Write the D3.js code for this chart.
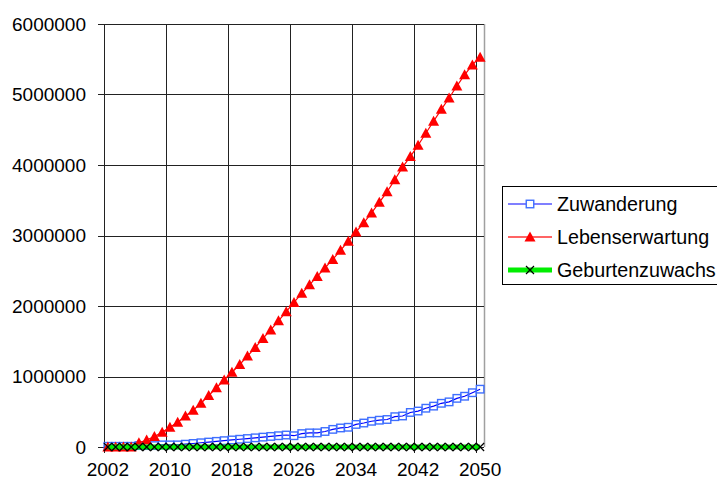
<!DOCTYPE html>
<html><head><meta charset="utf-8">
<script src="https://cdn.jsdelivr.net/npm/d3@7"></script>
<style>body{margin:0;background:#fff;} text{font-family:"Liberation Sans",Arial,sans-serif;}</style>
</head><body>
<svg id="c" width="717" height="486"></svg>
<script>
const years = d3.range(2002, 2051);
const tickYears = [2002, 2010, 2018, 2026, 2034, 2042, 2050];
const yTicks = [0, 1000000, 2000000, 3000000, 4000000, 5000000, 6000000];
const seriesNames = ["Zuwanderung", "Lebenserwartung", "Geburtenzuwachs"];
// values in millions
const zuwanderung = [0.01,0.01,0.01,0.01,0.02,0.02,0.02,0.03,0.03,0.03,0.04,0.05,0.06,0.07,0.08,0.09,0.10,0.11,0.12,0.13,0.14,0.15,0.16,0.17,0.16,0.19,0.20,0.20,0.22,0.25,0.27,0.28,0.32,0.34,0.365,0.38,0.39,0.43,0.44,0.49,0.51,0.55,0.58,0.62,0.64,0.69,0.72,0.77,0.82];
const lebenserwartung = [0,0,0,0,0.06,0.10,0.15,0.21,0.28,0.35,0.44,0.52,0.62,0.73,0.84,0.95,1.06,1.17,1.29,1.41,1.54,1.66,1.79,1.92,2.05,2.18,2.30,2.42,2.54,2.66,2.79,2.92,3.05,3.18,3.32,3.47,3.62,3.79,3.97,4.12,4.28,4.45,4.62,4.79,4.95,5.12,5.28,5.42,5.53];
const geburtenzuwachs = years.map(() => 0);

const svg = d3.select("#c");
const x = d3.scaleBand().domain(years).range([104, 484]).paddingInner(0).paddingOuter(0);
const y = d3.scaleLinear().domain([0, 6000000]).range([447, 24]);
const cx = yr => x(yr) + x.bandwidth() / 2;
const cr = v => Math.round(v) + 0.5;

// plot area border (right) light gray
svg.append("line").attr("x1", cr(484)).attr("x2", cr(484)).attr("y1", 24).attr("y2", 447)
  .attr("stroke", "#a0a0a0").attr("stroke-width", 1.5);

// horizontal gridlines
svg.append("g").selectAll("line").data(yTicks).join("line")
  .attr("x1", 98).attr("x2", 484).attr("y1", d => cr(y(d))).attr("y2", d => cr(y(d)))
  .attr("stroke", "#222").attr("stroke-width", 1);
// vertical gridlines at category boundaries every 8
svg.append("g").selectAll("line").data(tickYears.slice(1)).join("line")
  .attr("x1", d => cr(x(d))).attr("x2", d => cr(x(d))).attr("y1", 24).attr("y2", 453)
  .attr("stroke", "#222").attr("stroke-width", 1);
// y axis line
svg.append("line").attr("x1", cr(104)).attr("x2", cr(104)).attr("y1", 24).attr("y2", 453)
  .attr("stroke", "#222");

// y labels
svg.append("g").selectAll("text").data(yTicks).join("text")
  .attr("x", 86).attr("y", d => y(d)).attr("dy", "0.35em").attr("text-anchor", "end")
  .attr("font-size", 19).attr("fill", "#000").text(d => d3.format("d")(d));
// x labels
svg.append("g").selectAll("text").data(tickYears).join("text")
  .attr("x", d => cx(d)).attr("y", 476).attr("text-anchor", "middle")
  .attr("font-size", 19).attr("fill", "#000").text(d => d);

const line = d3.line().x((d, i) => cx(years[i])).y(d => y(d * 1e6));

// Zuwanderung
svg.append("path").datum(zuwanderung).attr("d", line).attr("fill", "none").attr("stroke", "#0000ff").attr("stroke-width", 1.2);
svg.append("g").selectAll("rect").data(zuwanderung).join("rect")
  .attr("x", (d, i) => cx(years[i]) - 3.75).attr("y", d => y(d * 1e6) - 3.75).attr("width", 7.5).attr("height", 7.5)
  .attr("fill", "none").attr("stroke", "#3f6fff").attr("stroke-width", 1.4);

// Lebenserwartung
svg.append("path").datum(lebenserwartung).attr("d", line).attr("fill", "none").attr("stroke", "#ff0000").attr("stroke-width", 1.2);
const tri = (px, py) => `M${px},${py - 5.5}L${px + 5.5},${py + 4.5}L${px - 5.5},${py + 4.5}Z`;
svg.append("g").selectAll("path").data(lebenserwartung).join("path")
  .attr("d", (d, i) => tri(cx(years[i]), y(d * 1e6))).attr("fill", "#ff0000");

// Geburtenzuwachs
svg.append("path").datum(geburtenzuwachs).attr("d", line).attr("fill", "none").attr("stroke", "#00ee00").attr("stroke-width", 5);
const xm = (px, py) => `M${px - 4},${py - 4}L${px + 4},${py + 4}M${px + 4},${py - 4}L${px - 4},${py + 4}`;
svg.append("g").selectAll("path").data(geburtenzuwachs).join("path")
  .attr("d", (d, i) => xm(cx(years[i]), y(d * 1e6))).attr("fill", "none").attr("stroke", "#000").attr("stroke-width", 1.2);

// legend
const lg = svg.append("g");
lg.append("rect").attr("x", 502.5).attr("y", 186.5).attr("width", 240).attr("height", 98)
  .attr("fill", "#fff").attr("stroke", "#000");
const ly = [204, 237, 270];
// entry 1
lg.append("line").attr("x1", 508).attr("x2", 552).attr("y1", ly[0]).attr("y2", ly[0]).attr("stroke", "#0000ff").attr("stroke-width", 1.2);
lg.append("rect").attr("x", 526.25).attr("y", ly[0] - 3.75).attr("width", 7.5).attr("height", 7.5).attr("fill", "#fff").attr("stroke", "#3f6fff").attr("stroke-width", 1.4);
// entry 2
lg.append("line").attr("x1", 508).attr("x2", 552).attr("y1", ly[1]).attr("y2", ly[1]).attr("stroke", "#ff3030").attr("stroke-width", 1.4);
lg.append("path").attr("d", tri(530, ly[1])).attr("fill", "#ff0000");
// entry 3
lg.append("line").attr("x1", 508).attr("x2", 552).attr("y1", ly[2]).attr("y2", ly[2]).attr("stroke", "#00ee00").attr("stroke-width", 5);
lg.append("path").attr("d", xm(530, ly[2])).attr("stroke", "#000").attr("stroke-width", 1.2);
lg.selectAll("text.l").data(seriesNames).join("text").attr("class", "l")
  .attr("x", 557).attr("y", (d, i) => ly[i]).attr("dy", "0.35em").attr("font-size", 19.7).attr("fill", "#000").text(d => d);
</script>
</body></html>
